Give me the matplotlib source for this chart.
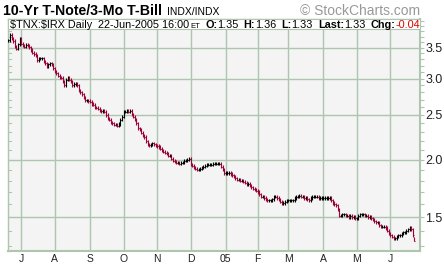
import numpy as np
import pandas as pd
import matplotlib
matplotlib.use("Agg")
import matplotlib.pyplot as plt
from matplotlib.patches import Rectangle

W, H = 444, 265
FONT = "Liberation Sans"
GREEN = "#aec6ae"
RED = "#a0003a"

# trading days, $TNX:$IRX daily, 21-Jun-2004 .. 22-Jun-2005
holidays = ["2004-07-05", "2004-09-06", "2004-11-25", "2004-12-24",
            "2005-01-17", "2005-02-21", "2005-03-25", "2005-05-30"]
dates = pd.bdate_range("2004-06-21", "2005-06-22")
dates = dates[~dates.isin(pd.to_datetime(holidays))]

# closing ratio, one line per month
closes = [
    3.63, 3.73, 3.67, 3.62, 3.52, 3.48, 3.56, 3.66,
    3.57, 3.54, 3.52, 3.55, 3.54, 3.51, 3.46, 3.41, 3.39, 3.36, 3.29, 3.31,
    3.32, 3.32, 3.27, 3.24, 3.19, 3.22, 3.24, 3.22, 3.16,
    3.11, 3.08, 3.04, 3.02, 3.01, 2.95, 2.90, 2.98, 3.01, 2.98, 2.95, 2.90,
    2.92, 2.93, 2.90, 2.83, 2.80, 2.77, 2.73, 2.69, 2.69, 2.68,
    2.67, 2.64, 2.63, 2.60, 2.59, 2.58, 2.56, 2.55, 2.55, 2.54, 2.50, 2.46,
    2.44, 2.41, 2.40, 2.38, 2.38, 2.37, 2.39, 2.44, 2.48,
    2.54, 2.54, 2.55, 2.54, 2.55, 2.51, 2.48, 2.44, 2.40, 2.34, 2.32, 2.29,
    2.26, 2.24, 2.19, 2.16, 2.15, 2.16, 2.17, 2.16, 2.15,
    2.14, 2.13, 2.11, 2.09, 2.08, 2.07, 2.06, 2.04, 2.04, 2.01, 1.99, 1.98,
    1.97, 1.97, 1.96, 1.97, 1.97, 1.99, 1.99, 2.00, 2.01,
    1.95, 1.94, 1.92, 1.91, 1.90, 1.90, 1.91, 1.92, 1.93, 1.94, 1.95, 1.95,
    1.95, 1.95, 1.96, 1.96, 1.96, 1.96, 1.96, 1.93, 1.90, 1.87,
    1.87, 1.87, 1.87, 1.86, 1.85, 1.84, 1.82, 1.81, 1.81, 1.80, 1.80, 1.79,
    1.78, 1.77, 1.77, 1.76, 1.74, 1.73, 1.72, 1.71,
    1.70, 1.68, 1.66, 1.66, 1.65, 1.64, 1.63, 1.63, 1.63, 1.64, 1.66, 1.66,
    1.65, 1.64, 1.62, 1.61, 1.61, 1.62, 1.63,
    1.63, 1.63, 1.63, 1.63, 1.65, 1.66, 1.66, 1.67, 1.66, 1.66, 1.65, 1.65,
    1.64, 1.63, 1.65, 1.66, 1.66, 1.66, 1.66, 1.65, 1.65, 1.65,
    1.65, 1.65, 1.65, 1.65, 1.65, 1.63, 1.61, 1.60, 1.59, 1.56, 1.51, 1.51,
    1.52, 1.52, 1.51, 1.51, 1.50, 1.51, 1.50, 1.50, 1.49,
    1.49, 1.51, 1.52, 1.52, 1.52, 1.51, 1.51, 1.50, 1.50, 1.49, 1.48, 1.47,
    1.46, 1.46, 1.44, 1.43, 1.43, 1.43, 1.42, 1.40, 1.38,
    1.37, 1.36, 1.35, 1.35, 1.36, 1.37, 1.37, 1.38, 1.39, 1.39, 1.40, 1.41,
    1.42, 1.41, 1.37, 1.33,
]
assert len(closes) == len(dates), (len(closes), len(dates))

last_open, last_high, last_low, last_close, last_chg = 1.35, 1.36, 1.33, 1.33, -0.04

month_labels = ["J", "A", "S", "O", "N", "D", "05", "F", "M", "A", "M", "J"]
y_major = [1.5, 2.0, 2.5, 3.0, 3.5]

# ── OHLC from closes ──
c = np.array(closes)
o = np.r_[c[0], c[:-1]]
o[-1] = last_open
hi = np.maximum(o, c) * 1.008
lo = np.minimum(o, c) / 1.008
hi[-1], lo[-1] = last_high, last_low
x = np.arange(len(c))
colors = np.where(c >= np.r_[c[0], c[:-1]], "black", RED)

fig = plt.figure(figsize=(W / 100, H / 100), dpi=100)
fig.patch.set_facecolor("white")
ax = fig.add_axes([8 / W, (H - 251) / H, 412 / W, 232 / H])
ax.set_facecolor("#f4f4f4")

ax.vlines(x, lo, hi, colors=colors, lw=0.8, zorder=3)
ax.hlines(o, x - 0.45, x, colors=colors, lw=0.8, zorder=3)
ax.hlines(c, x, x + 0.45, colors=colors, lw=0.8, zorder=3)

ax.set_yscale("log")
ax.set_ylim(1.266, 4.04)
ax.set_xlim(-0.3, 257.5)

# month ticks on first trading day
month_pos = [i for i in range(1, len(dates)) if dates[i].month != dates[i - 1].month]
ax.set_xticks(month_pos)
ax.set_xticklabels(month_labels, fontsize=7.5, family=FONT, color="#222222")
ax.tick_params(axis="x", length=0, pad=2)

ax.set_yticks(y_major)
ax.set_yticklabels([f"{v:.1f}" for v in y_major], fontsize=9, family=FONT,
                   color="#222222")
minor = [round(v, 1) for v in np.arange(1.3, 4.05, 0.1) if round(v, 1) not in y_major]
ax.set_yticks(minor, minor=True)
ax.yaxis.set_minor_formatter(plt.NullFormatter())
ax.tick_params(axis="y", which="both", left=False, right=True, labelleft=False,
               labelright=True, direction="out", length=3, width=0.8,
               color=GREEN, pad=1)
for v in minor + y_major:
    ax.plot([0, 0.008], [v, v], transform=ax.get_yaxis_transform(),
            color=GREEN, lw=0.8, zorder=2)

ax.grid(True, which="major", color=GREEN, lw=1.0, zorder=1)
ax.set_axisbelow(True)
for side, sp in ax.spines.items():
    sp.set_color(GREEN)
    sp.set_linewidth(1.5 if side in ("bottom", "right") else 1.0)

# ── header ──
renderer = fig.canvas.get_renderer()


def px(xp, yp):
    return xp / W, 1 - yp / H


def row(x0, yp, pieces):
    """Lay text pieces out left to right; each piece = (gap, text, weight, colour, size)."""
    xp = x0
    for gap, s, w, col, fs in pieces:
        xp += gap
        t = fig.text(*px(xp, yp), s, fontsize=fs, weight=w, color=col,
                     family=FONT, va="baseline", ha="left", zorder=6)
        xp += t.get_window_extent(renderer).width
    return xp


row(3, 15, [
    (0, "10-Yr T-Note/3-Mo T-Bill", "bold", "black", 10.2),
    (5, "INDX/INDX", "normal", "black", 7.5),
])
fig.text(*px(420, 15), "\u00a9 StockCharts.com", fontsize=10, family=FONT,
         color="#999999", va="baseline", ha="right")

box = Rectangle((8 / W, 1 - 29 / H), 412 / W, 10 / H, transform=fig.transFigure,
                facecolor="white", edgecolor=GREEN, lw=0.8, zorder=5)
fig.patches.append(box)

row(10, 27.5, [
    (0, r"\$TNX:\$IRX Daily", "normal", "black", 7.8),
    (6, "22-Jun-2005 16:00", "normal", "black", 7.8),
    (1, "ET", "normal", "black", 5.5),
    (5, "O:", "bold", "black", 7.8),
    (0, f"{last_open:.2f}", "normal", "black", 7.8),
    (5, "H:", "bold", "black", 7.8),
    (0, f"{last_high:.2f}", "normal", "black", 7.8),
    (5, "L:", "bold", "black", 7.8),
    (0, f"{last_low:.2f}", "normal", "black", 7.8),
    (5, "Last:", "bold", "black", 7.8),
    (0, f"{last_close:.2f}", "normal", "black", 7.8),
    (5, "Chg:", "bold", "black", 7.8),
    (0, f"{last_chg:.2f}", "normal", "#e00000", 7.8),
])

fig.savefig("out.png", dpi=100)
